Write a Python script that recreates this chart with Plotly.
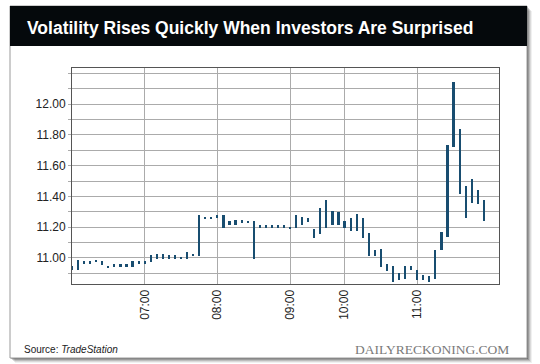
import plotly.graph_objects as go

# ---------------- data ----------------
bar_index = list(range(69))
bar_high = [10.946, 10.985, 10.978, 10.978, 10.989, 10.980, 10.946, 10.961, 10.961, 10.961,
            10.983, 10.983, 10.983, 11.022, 11.028, 11.028, 11.022, 11.022, 11.007, 11.041,
            11.028, 11.280, 11.267, 11.263, 11.280, 11.280, 11.239, 11.246, 11.248, 11.243,
            11.239, 11.217, 11.217, 11.217, 11.217, 11.217, 11.204, 11.278, 11.265, 11.257,
            11.185, 11.326, 11.376, 11.304, 11.298, 11.239, 11.257, 11.287, 11.257, 11.159,
            11.050, 11.061, 10.963, 10.950, 10.902, 10.950, 10.950, 10.924, 10.889, 10.880,
            11.050, 11.167, 11.733, 12.146, 11.837, 11.465, 11.511, 11.439, 11.380]
bar_low = [10.920, 10.920, 10.957, 10.957, 10.976, 10.952, 10.933, 10.939, 10.939, 10.939,
           10.939, 10.957, 10.957, 10.974, 10.993, 10.993, 10.993, 10.993, 10.993, 10.993,
           11.011, 11.011, 11.257, 11.250, 11.257, 11.196, 11.217, 11.217, 11.230, 11.233,
           10.993, 11.196, 11.196, 11.196, 11.196, 11.196, 11.191, 11.196, 11.217, 11.233,
           11.130, 11.157, 11.196, 11.217, 11.217, 11.193, 11.174, 11.174, 11.130, 11.011,
           11.011, 10.941, 10.913, 10.843, 10.859, 10.863, 10.920, 10.859, 10.859, 10.843,
           10.863, 11.054, 11.135, 11.724, 11.417, 11.259, 11.359, 11.352, 11.237]
hour_pos = [12, 24, 36, 45, 57]
hour_labels = ["07:00", "08:00", "09:00", "10:00", "11:00"]
y_tick_vals = [10.9, 11.0, 11.1, 11.2, 11.3, 11.4, 11.5, 11.6, 11.7, 11.8, 11.9, 12.0, 12.1, 12.2]
y_tick_text = ["", "11.00", "", "11.20", "", "11.40", "", "11.60", "", "11.80", "", "12.00", "", ""]

title_text = "Volatility Rises Quickly When Investors Are Surprised"
source_text = "Source: <i>TradeStation</i>"
brand_text = "DAILYRECKONING.COM"

# ---------------- style ----------------
W, H = 540, 364
ML, MR, MT, MB = 72, 41, 68, 80
PW, PH = W - ML - MR, H - MT - MB
BAR = "#184d70"
GRID = "#ababab"
AXIS = "#555555"
SANS = "Liberation Sans, Arial, Helvetica, sans-serif"


def px_x(p):
    return (p - ML) / PW


def px_y(p):
    return (H - MB - p) / PH


fig = go.Figure()
fig.add_trace(go.Bar(
    x=bar_index,
    y=[h - l for h, l in zip(bar_high, bar_low)],
    base=bar_low,
    width=0.36,
    marker=dict(color=BAR, line=dict(width=0)),
    hoverinfo="skip",
))

shapes = []
# card shadow (soft)
for off, op in [(5, 0.06), (4, 0.09), (3, 0.13), (2, 0.18), (1, 0.25)]:
    shapes.append(dict(type="rect", xref="paper", yref="paper", layer="below",
                       x0=px_x(10 + off), x1=px_x(527 + off), y0=px_y(358 + off), y1=px_y(6 + off),
                       fillcolor=f"rgba(0,0,0,{op})", line=dict(width=0)))
# card
shapes.append(dict(type="rect", xref="paper", yref="paper", layer="below",
                   x0=px_x(10), x1=px_x(527), y0=px_y(358), y1=px_y(6),
                   fillcolor="white", line=dict(color="#9a9a9a", width=1)))
# title bar
shapes.append(dict(type="rect", xref="paper", yref="paper", layer="below",
                   x0=px_x(10), x1=px_x(527), y0=px_y(46), y1=px_y(6),
                   fillcolor="#05090c", line=dict(width=0)))

annotations = [
    dict(text="<b>" + title_text + "</b>", xref="paper", yref="paper",
         x=px_x(25), y=px_y(28), xanchor="left", yanchor="middle", showarrow=False,
         font=dict(family=SANS, size=17.5, color="white")),
    dict(text=source_text, xref="paper", yref="paper",
         x=px_x(22), y=px_y(349), xanchor="left", yanchor="middle", showarrow=False,
         font=dict(family=SANS, size=10, color="#222222")),
    dict(text=brand_text, xref="paper", yref="paper",
         x=px_x(511), y=px_y(349), xanchor="right", yanchor="middle", showarrow=False,
         font=dict(family="Liberation Serif, Times New Roman, serif", size=13.5, color="#7a7a7a")),
]

fig.update_layout(
    width=W, height=H,
    margin=dict(l=ML, r=MR, t=MT, b=MB, pad=0),
    paper_bgcolor="white",
    plot_bgcolor="rgba(0,0,0,0)",
    showlegend=False,
    bargap=0,
    shapes=shapes,
    annotations=annotations,
    xaxis=dict(
        range=[0, 70.5], tickmode="array", tickvals=hour_pos, ticktext=hour_labels,
        tickangle=-90, showgrid=True, gridcolor=GRID, gridwidth=1,
        showline=True, linecolor=AXIS, linewidth=1, mirror=True,
        ticks="", zeroline=False, fixedrange=True,
        tickfont=dict(family=SANS, size=12, color="#222222"),
    ),
    yaxis=dict(
        range=[10.83, 12.236], tickmode="array", tickvals=y_tick_vals, ticktext=y_tick_text,
        showgrid=True, gridcolor=GRID, gridwidth=1,
        showline=True, linecolor=AXIS, linewidth=1, mirror=True,
        ticks="outside", ticklen=3, tickcolor=GRID, zeroline=False, fixedrange=True,
        tickfont=dict(family=SANS, size=12, color="#222222"),
    ),
)

fig.write_html("out.html", config={"displayModeBar": False},
               post_script="document.body.style.margin='0';")
